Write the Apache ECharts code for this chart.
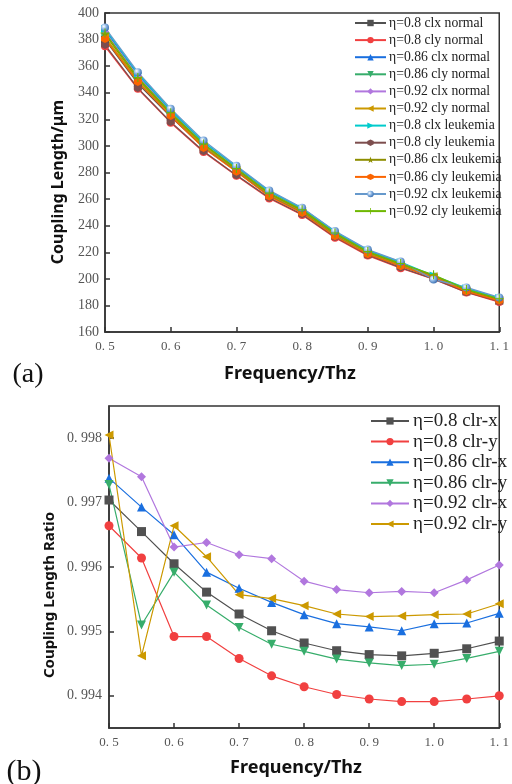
<!DOCTYPE html>
<html>
<head>
<meta charset="utf-8">
<script src="https://cdn.jsdelivr.net/npm/echarts@6/dist/echarts.min.js"></script>
<style>html,body{margin:0;padding:0;background:#fff;}#c{width:512px;height:784px;}</style>
</head>
<body>
<div id="c"></div>
<script>
// ---------- data ----------
const freq = [0.5, 0.55, 0.6, 0.65, 0.7, 0.75, 0.8, 0.85, 0.9, 0.95, 1.0, 1.05, 1.1];

// (a) coupling length (um)
const topNames = [
  'η=0.8 clx normal', 'η=0.8 cly normal', 'η=0.86 clx normal', 'η=0.86 cly normal',
  'η=0.92 clx normal', 'η=0.92 cly normal', 'η=0.8 clx leukemia', 'η=0.8 cly leukemia',
  'η=0.86 clx leukemia', 'η=0.86 cly leukemia', 'η=0.92 clx leukemia', 'η=0.92 cly leukemia'
];
const clx080Normal = [380, 347, 322, 299, 281, 262.5, 250, 232.5, 218.5, 209.5, 201, 190.5, 183.5];
const cly080Normal = [375, 343, 317.5, 295.5, 277.5, 260.5, 248, 231, 217.5, 208, 199.8, 189.8, 182.5];
const clx086Normal = [387, 353.5, 326, 302.5, 284, 265.5, 252.5, 235, 221, 212, 202, 192.5, 185];
const cly086Normal = [381, 348.5, 323, 299.5, 281.5, 263, 250.5, 233, 219, 210, 201.5, 191, 184];
const clx092Normal = [386, 352.5, 325.5, 302, 283.5, 265, 252, 234.5, 220.5, 211.5, 201.5, 192, 184.5];
const cly092Normal = [382, 349.5, 324, 300, 282, 263.5, 251, 233.5, 219.5, 210.5, 202, 191, 184];
const clx080Leuk = [388, 354.5, 327, 303, 284.5, 266, 253, 235.5, 221.5, 212.5, 202.5, 193, 185.5];
const cly080Leuk = [376, 343.5, 318, 296, 278, 261, 248.5, 231.5, 218, 208.5, 200, 190, 183];
const clx086Leuk = [384, 350.5, 324.5, 301, 282.5, 264, 251.5, 234, 220, 211, 202.5, 191.5, 184.5];
const cly086Leuk = [380.5, 348, 322.5, 298.5, 280.5, 262, 249.5, 232, 218.5, 209.5, 201, 190.5, 183.5];
const clx092Leuk = [389, 355.5, 328, 304, 285, 266.5, 253.5, 236, 222, 213, 199.5, 193.5, 186];
const cly092Leuk = [385, 351.5, 325, 301.5, 283, 264.5, 252, 234.5, 220.5, 211.5, 203, 192, 185];
const topValues = [clx080Normal, cly080Normal, clx086Normal, cly086Normal, clx092Normal, cly092Normal,
  clx080Leuk, cly080Leuk, clx086Leuk, cly086Leuk, clx092Leuk, cly092Leuk];

// (b) coupling length ratio
const bottomNames = ['η=0.8 clr-x', 'η=0.8 clr-y', 'η=0.86 clr-x', 'η=0.86 clr-y', 'η=0.92 clr-x', 'η=0.92 clr-y'];
const clrX080 = [0.99704, 0.99655, 0.99605, 0.99561, 0.99527, 0.99501, 0.99482, 0.99470, 0.99464, 0.99462, 0.99466, 0.99473, 0.99485];
const clrY080 = [0.99664, 0.99614, 0.99492, 0.99492, 0.99458, 0.99431, 0.99414, 0.99402, 0.99395, 0.99391, 0.99391, 0.99395, 0.99400];
const clrX086 = [0.99738, 0.99693, 0.99650, 0.99592, 0.99567, 0.99545, 0.99526, 0.99512, 0.99507, 0.99501, 0.99512, 0.99513, 0.99528];
const clrY086 = [0.99728, 0.99510, 0.99592, 0.99541, 0.99506, 0.99480, 0.99469, 0.99457, 0.99451, 0.99447, 0.99449, 0.99458, 0.99469];
const clrX092 = [0.99769, 0.99740, 0.99631, 0.99638, 0.99619, 0.99613, 0.99578, 0.99565, 0.99560, 0.99562, 0.99560, 0.99580, 0.99603];
const clrY092 = [0.99805, 0.99462, 0.99664, 0.99616, 0.99557, 0.99551, 0.99540, 0.99527, 0.99523, 0.99524, 0.99526, 0.99527, 0.99543];
const bottomValues = [clrX080, clrY080, clrX086, clrY086, clrX092, clrY092];

const topYTicks = [160, 180, 200, 220, 240, 260, 280, 300, 320, 340, 360, 380, 400];
const bottomYTicks = [0.994, 0.995, 0.996, 0.997, 0.998];

// ---------- styles ----------
const palette = ['#515151', '#F14040', '#1A6FDF', '#37AD6B', '#B177DE', '#CC9900',
  '#00CBCC', '#7D4E4E', '#8E8E00', '#FB6501', '#6699CC', '#6FB802'];
const SYM = {
  rect: 'rect',
  circle: 'circle',
  up: 'triangle',
  down: 'path://M0,0 L10,0 L5,9 Z',
  diamond: 'diamond',
  left: 'path://M10,0 L10,10 L1,5 Z',
  right: 'path://M0,0 L0,10 L9,5 Z',
  hex: 'path://M5,0 L9.33,2.5 L9.33,7.5 L5,10 L0.67,7.5 L0.67,2.5 Z',
  star: 'path://M5,0 L6.2,3.6 L10,3.6 L7,5.9 L8.1,9.5 L5,7.3 L1.9,9.5 L3,5.9 L0,3.6 L3.8,3.6 Z',
  plus: 'path://M4.4,0 H5.6 V4.4 H10 V5.6 H5.6 V10 H4.4 V5.6 H0 V4.4 H4.4 Z'
};
const topSymbols = [SYM.rect, SYM.circle, SYM.up, SYM.down, SYM.diamond, SYM.left, SYM.right, SYM.hex, SYM.star, SYM.hex, SYM.circle, SYM.plus];
const bottomSymbols = [SYM.rect, SYM.circle, SYM.up, SYM.down, SYM.diamond, SYM.left];

const serif = '"Liberation Serif", "Times New Roman", serif';
const sans = '"Noto Sans", "DejaVu Sans", sans-serif';
const fmtX = v => v.toFixed(1).replace('.', '. ');

function pairs(vals) { return freq.map((f, i) => [f, vals[i]]); }

const series = [];
topValues.forEach((vals, i) => {
  let color = palette[i];
  let itemColor = color;
  if (i === 10) {
    itemColor = { type: 'radial', x: 0.35, y: 0.35, r: 0.7,
      colorStops: [{ offset: 0, color: '#ffffff' }, { offset: 0.45, color: '#8fb8e6' }, { offset: 1, color: '#3a6fb0' }] };
  }
  series.push({
    name: topNames[i], type: 'line', xAxisIndex: 0, yAxisIndex: 0,
    data: pairs(vals), symbol: topSymbols[i], symbolSize: i === 11 ? 9 : 8,
    lineStyle: { color: color, width: 1.3 },
    itemStyle: { color: itemColor, borderWidth: 0 },
    animation: false
  });
});
bottomValues.forEach((vals, i) => {
  series.push({
    name: bottomNames[i], type: 'line', xAxisIndex: 1, yAxisIndex: 1,
    data: pairs(vals), symbol: bottomSymbols[i], symbolSize: 9,
    lineStyle: { color: palette[i], width: 1.2 },
    itemStyle: { color: palette[i], borderWidth: 0 },
    animation: false
  });
});

const axisLine = { show: true, lineStyle: { color: '#333', width: 1.5 } };
const axisTick = { show: true, inside: true, length: 5, lineStyle: { color: '#333', width: 1.5 } };

const option = {
  animation: false,
  backgroundColor: '#fff',
  grid: [
    { left: 105, top: 13, width: 398, height: 319, show: true, borderColor: '#333', borderWidth: 1.5, backgroundColor: 'transparent' },
    { left: 109, top: 406, width: 400, height: 322, show: true, borderColor: '#333', borderWidth: 1.5, backgroundColor: 'transparent' }
  ],
  xAxis: [
    { type: 'value', gridIndex: 0, min: 0.5, max: 1.1, interval: 0.1, splitLine: { show: false },
      axisLine: axisLine, axisTick: axisTick,
      axisLabel: { formatter: fmtX, fontFamily: serif, fontSize: 13, color: '#555', margin: 8, showMaxLabel: true, showMinLabel: true } },
    { type: 'value', gridIndex: 1, min: 0.5, max: 1.1, interval: 0.1, splitLine: { show: false },
      axisLine: axisLine, axisTick: axisTick,
      axisLabel: { formatter: fmtX, fontFamily: serif, fontSize: 13, color: '#555', margin: 8, showMaxLabel: true, showMinLabel: true } }
  ],
  yAxis: [
    { type: 'value', gridIndex: 0, min: 160, max: 400, interval: 20, splitLine: { show: false },
      axisLine: axisLine, axisTick: axisTick,
      axisLabel: { fontFamily: serif, fontSize: 14, color: '#555', margin: 6, customValues: topYTicks } },
    { type: 'value', gridIndex: 1, min: 0.9935, max: 0.9985, interval: 0.0005, splitLine: { show: false },
      axisLine: axisLine,
      axisTick: Object.assign({}, axisTick, { customValues: bottomYTicks }),
      axisLabel: { fontFamily: serif, fontSize: 14, color: '#555', margin: 7, customValues: bottomYTicks,
        formatter: v => v.toFixed(3).replace('.', '. ') } }
  ],
  legend: [
    { data: topNames, orient: 'vertical', left: 354, top: 16, padding: 0, itemWidth: 31, itemHeight: 8, itemGap: 3.1,
      selectedMode: false, textStyle: { fontFamily: serif, fontSize: 13.7, color: '#222', padding: [0, 0, 0, -2] } },
    { data: bottomNames, orient: 'vertical', left: 370, top: 411.5, padding: 0, itemWidth: 38, itemHeight: 9, itemGap: 1.6,
      selectedMode: false, textStyle: { fontFamily: serif, fontSize: 19, color: '#222', padding: [0, 0, 0, -1] } }
  ],
  graphic: [
    { type: 'text', x: 58, y: 182, rotation: Math.PI / 2,
      style: { text: 'Coupling Length/μm', font: 'bold 16px ' + sans, fill: '#111', textAlign: 'center', textVerticalAlign: 'middle' } },
    { type: 'text', x: 290, y: 374,
      style: { text: 'Frequency/Thz', font: 'bold 18px ' + sans, fill: '#111', textAlign: 'center', textVerticalAlign: 'middle' } },
    { type: 'text', x: 28, y: 375,
      style: { text: '(a)', font: '28px ' + serif, fill: '#111', textAlign: 'center', textVerticalAlign: 'middle' } },
    { type: 'text', x: 50, y: 595, rotation: Math.PI / 2,
      style: { text: 'Coupling Length Ratio', font: 'bold 15px ' + sans, fill: '#111', textAlign: 'center', textVerticalAlign: 'middle' } },
    { type: 'text', x: 296, y: 768,
      style: { text: 'Frequency/Thz', font: 'bold 18px ' + sans, fill: '#111', textAlign: 'center', textVerticalAlign: 'middle' } },
    { type: 'text', x: 24, y: 772,
      style: { text: '(b)', font: '30px ' + serif, fill: '#111', textAlign: 'center', textVerticalAlign: 'middle' } }
  ],
  series: series
};

const chart = echarts.init(document.getElementById('c'), null, { renderer: 'canvas' });
chart.setOption(option);
</script>
</body>
</html>
